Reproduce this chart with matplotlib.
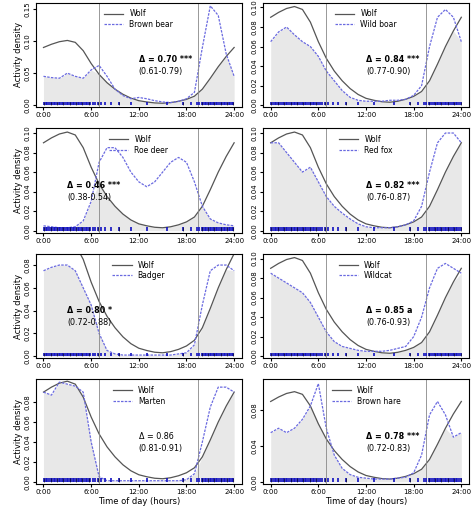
import numpy as np
import matplotlib
matplotlib.use("Agg")
import matplotlib.pyplot as plt
from matplotlib.lines import Line2D

hours = list(range(25))
wolf = [0.090,0.095,0.099,0.101,0.098,0.085,0.065,0.048,0.035,0.025,0.017,0.011,0.007,0.005,0.0035,0.003,0.004,0.006,0.009,0.014,0.025,0.042,0.060,0.076,0.090]
species = ["Brown bear","Wild boar","Roe deer","Red fox","Badger","Wildcat","Marten","Brown hare"]
curves = [
 [0.045,0.043,0.042,0.050,0.045,0.042,0.055,0.062,0.045,0.025,0.015,0.010,0.012,0.010,0.007,0.005,0.004,0.006,0.010,0.020,0.090,0.155,0.140,0.080,0.045],
 [0.065,0.075,0.080,0.072,0.065,0.060,0.050,0.035,0.025,0.015,0.008,0.005,0.004,0.004,0.004,0.005,0.005,0.006,0.010,0.020,0.060,0.090,0.098,0.090,0.065],
 [0.005,0.004,0.003,0.003,0.004,0.010,0.030,0.070,0.085,0.085,0.075,0.060,0.050,0.045,0.050,0.060,0.070,0.075,0.070,0.050,0.025,0.012,0.008,0.006,0.005],
 [0.090,0.090,0.080,0.070,0.060,0.065,0.050,0.035,0.025,0.018,0.012,0.007,0.004,0.003,0.003,0.003,0.004,0.006,0.010,0.025,0.060,0.090,0.100,0.100,0.090],
 [0.075,0.078,0.080,0.080,0.075,0.060,0.045,0.020,0.005,0.002,0.001,0.001,0.001,0.001,0.001,0.001,0.001,0.002,0.003,0.010,0.045,0.075,0.080,0.080,0.075],
 [0.085,0.080,0.075,0.070,0.065,0.055,0.040,0.025,0.015,0.010,0.008,0.006,0.005,0.005,0.005,0.006,0.008,0.010,0.020,0.040,0.070,0.090,0.095,0.090,0.085],
 [0.090,0.087,0.100,0.098,0.096,0.090,0.040,0.005,0.001,0.001,0.001,0.001,0.001,0.001,0.001,0.001,0.001,0.001,0.002,0.008,0.040,0.075,0.095,0.095,0.090],
 [0.055,0.060,0.055,0.060,0.070,0.085,0.110,0.060,0.030,0.015,0.008,0.005,0.004,0.003,0.003,0.003,0.004,0.005,0.010,0.030,0.075,0.090,0.075,0.050,0.055],
]
deltas = ["\u0394 = 0.70 ***","\u0394 = 0.84 ***","\u0394 = 0.46 ***","\u0394 = 0.82 ***","\u0394 = 0.80 *","\u0394 = 0.85 a","\u0394 = 0.86","\u0394 = 0.78 ***"]
cis = ["(0.61-0.79)","(0.77-0.90)","(0.38-0.54)","(0.76-0.87)","(0.72-0.88)","(0.76-0.93)","(0.81-0.91)","(0.72-0.83)"]
bold = [True,True,True,True,True,True,False,True]
ylims = [0.16,0.105,0.105,0.105,0.09,0.105,0.103,0.115]
yticks = [[0,0.05,0.10,0.15],[0,0.02,0.04,0.06,0.08,0.10],[0,0.02,0.04,0.06,0.08,0.10],[0,0.02,0.04,0.06,0.08,0.10],
          [0,0.02,0.04,0.06,0.08],[0,0.02,0.04,0.06,0.08,0.10],[0,0.02,0.04,0.06,0.08],[0,0.04,0.08]]
rug_times = [0.1,0.3,0.5,0.7,0.9,1.1,1.3,1.5,1.7,1.9,2.1,2.3,2.5,2.7,2.9,3.1,3.3,3.5,3.7,3.9,4.1,4.3,4.5,4.7,4.9,5.1,5.3,5.5,5.7,5.9,6.2,6.5,6.8,7.2,7.8,8.5,9.5,11.0,13.0,15.5,17.5,18.6,19.3,19.6,19.9,20.1,20.3,20.5,20.7,20.9,21.1,21.3,21.5,21.7,21.9,22.1,22.3,22.5,22.7,22.9,23.1,23.3,23.5,23.7,23.9]
text_x = [12,12,3,12,3,12,12,12]
sunrise, sunset = 7.0, 19.5

fig, axes = plt.subplots(4, 2, figsize=(4.74, 5.23), dpi=100)
fig.subplots_adjust(left=0.075, right=0.99, top=0.995, bottom=0.075, wspace=0.1, hspace=0.2)
x = np.array(hours)
w = np.array(wolf)
for i, ax in enumerate(axes.flat):
    s = np.array(curves[i])
    ax.fill_between(x, 0, np.minimum(w, s), color="#e8e8e8", lw=0)
    ax.plot(x, w, color="#555555", lw=0.9)
    ax.plot(x, s, color="#6a6ae0", lw=0.9, ls=(0, (2, 1)))
    ax.axvline(sunrise, color="#888888", lw=0.6)
    ax.axvline(sunset, color="#888888", lw=0.6)
    yl = ylims[i]
    ax.vlines(rug_times, 0, yl*0.035, color="#1010c0", lw=1.2)
    ax.vlines(rug_times[::4], 0, yl*0.035, color="black", lw=0.4)
    ax.set_xlim(-1, 25)
    ax.set_ylim(-yl*0.02, yl)
    ax.set_xticks([0,6,12,18,24])
    ax.set_xticklabels(["0:00","6:00","12:00","18:00","24:00"], fontsize=5)
    ax.set_yticks(yticks[i])
    ax.set_yticklabels([f"{v:.2f}" for v in yticks[i]], fontsize=5, rotation=90, va="center")
    ax.tick_params(length=2, pad=1.5)
    ax.text(text_x[i], yl*0.42, deltas[i], fontsize=5.8, fontweight="bold" if bold[i] else "normal", ha="left")
    ax.text(text_x[i], yl*0.30, cis[i], fontsize=5.8, ha="left")
    hnd = [Line2D([], [], color="#555555", lw=0.9), Line2D([], [], color="#6a6ae0", lw=0.9, ls=(0, (2, 1)))]
    ax.legend(hnd, ["Wolf", species[i]], loc="upper center", bbox_to_anchor=(0.5, 1.0), fontsize=5.5, frameon=False, handlelength=2.5, labelspacing=0.2)
    if i % 2 == 0:
        ax.set_ylabel("Activity density", fontsize=6, labelpad=1)
    if i >= 6:
        ax.set_xlabel("Time of day (hours)", fontsize=6, labelpad=2)
fig.savefig("out.png")
